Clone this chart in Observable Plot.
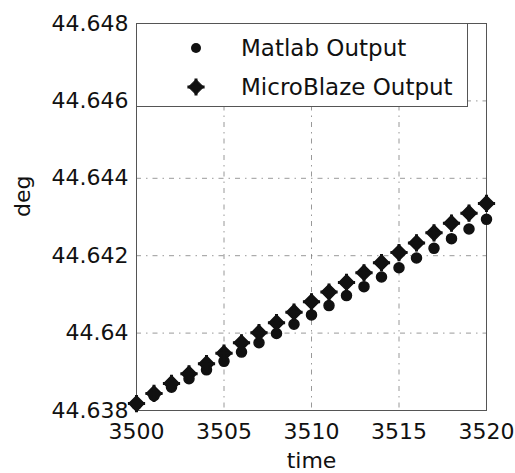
<!DOCTYPE html>
<html>
<head>
<meta charset="utf-8">
<script src="https://cdn.jsdelivr.net/npm/d3@7"></script>
<script src="https://cdn.jsdelivr.net/npm/@observablehq/plot@0.6"></script>
<style>
  html, body { margin: 0; padding: 0; background: #fff; }
  #wrap { position: relative; width: 515px; height: 473px; font-family: "DejaVu Sans", sans-serif; }
  #legend { position: absolute; left: 136px; top: 23px; width: 332px; height: 84px;
    background: #fff; border: 1px solid #555; box-sizing: border-box; }
  #legend .row { position: absolute; left: 0; height: 30px; display: flex; align-items: center; }
  #legend svg { position: absolute; left: 44px; }
  #legend span { position: absolute; left: 104px; font-size: 23px; color: #111; white-space: nowrap; line-height: 30px; }
</style>
</head>
<body>
<div id="wrap"></div>
<script>
const time = [3500,3501,3502,3503,3504,3505,3506,3507,3508,3509,3510,3511,3512,3513,3514,3515,3516,3517,3518,3519,3520];
const matlab = [44.63816,44.63838,44.63860,44.63882,44.63905,44.63927,44.63951,44.63975,44.63999,44.64023,44.64047,44.64071,44.64097,44.64120,44.64145,44.64169,44.64194,44.64219,44.64244,44.64269,44.64294];
const microblaze = [44.63818,44.63844,44.63870,44.63895,44.63921,44.63948,44.63975,44.64001,44.64027,44.64054,44.64081,44.64106,44.64131,44.64156,44.64182,44.64208,44.64233,44.64259,44.64284,44.64310,44.64335];
const xTicks = [3500,3505,3510,3515,3520];
const yTicks = [44.638,44.640,44.642,44.644,44.646,44.648];
const seriesNames = ["Matlab Output", "MicroBlaze Output"];

const matlabData = time.map((t, i) => ({t, v: matlab[i]}));
const mbData = time.map((t, i) => ({t, v: microblaze[i]}));

const gridStyle = {stroke: "#777", strokeOpacity: 0.75, strokeWidth: 1, strokeDasharray: "5,5,1.5,5"};

const chart = Plot.plot({
  width: 515,
  height: 473,
  marginLeft: 136,
  marginRight: 29,
  marginTop: 23,
  marginBottom: 63,
  style: {fontFamily: "DejaVu Sans, sans-serif", fontSize: "22px", color: "#111", background: "#fff", overflow: "visible"},
  x: {domain: [3500, 3520]},
  y: {domain: [44.638, 44.648]},
  marks: [
    Plot.gridX(xTicks, gridStyle),
    Plot.gridY(yTicks, gridStyle),
    Plot.frame({stroke: "#555", strokeWidth: 1}),
    Plot.axisX(xTicks, {tickSize: 0, tickPadding: 13, label: null, fontSize: 22, tickFormat: d => String(d)}),
    Plot.axisY(yTicks, {tickSize: 0, tickPadding: 8, label: null, fontSize: 22, tickFormat: d => String(+d.toFixed(3))}),
    Plot.text(["time"], {frameAnchor: "bottom", dy: 50, lineAnchor: "middle", fontSize: 22, fill: "#111"}),
    Plot.text(["deg"], {frameAnchor: "left", dx: -114, rotate: -90, fontSize: 22, fill: "#111"}),
    Plot.dot(matlabData, {x: "t", y: "v", r: 5, fill: "#111", stroke: "#111", symbol: "circle"}),
    Plot.dot(mbData, {x: "t", y: "v", r: 6.8, fill: "#111", stroke: "#111", symbol: "diamond2"}),
    Plot.dot(mbData, {x: "t", y: "v", r: 5.6, stroke: "#111", strokeWidth: 3, symbol: "plus"})
  ]
});

const wrap = document.getElementById("wrap");
wrap.appendChild(chart);

// legend overlay
const legend = d3.select(wrap).append("div").attr("id", "legend");
const rows = [
  {name: seriesNames[0], top: 9, draw: g => g.append("circle").attr("cx", 15).attr("cy", 15).attr("r", 5).attr("fill", "#111")},
  {name: seriesNames[1], top: 48, draw: g => {
    g.append("path").attr("d", d3.symbol(d3.symbolDiamond2, 6.8 * 6.8 * Math.PI)()).attr("transform", "translate(15,15)").attr("fill", "#111").attr("stroke", "#111");
    g.append("path").attr("d", d3.symbol(d3.symbolPlus, 5.6 * 5.6 * Math.PI)()).attr("transform", "translate(15,15)").attr("fill", "none").attr("stroke", "#111").attr("stroke-width", 3);
  }}
];
rows.forEach(r => {
  const row = legend.append("div").attr("class", "row").style("top", r.top + "px");
  const svg = row.append("svg").attr("width", 30).attr("height", 30);
  r.draw(svg);
  row.append("span").text(r.name);
});
</script>
</body>
</html>
